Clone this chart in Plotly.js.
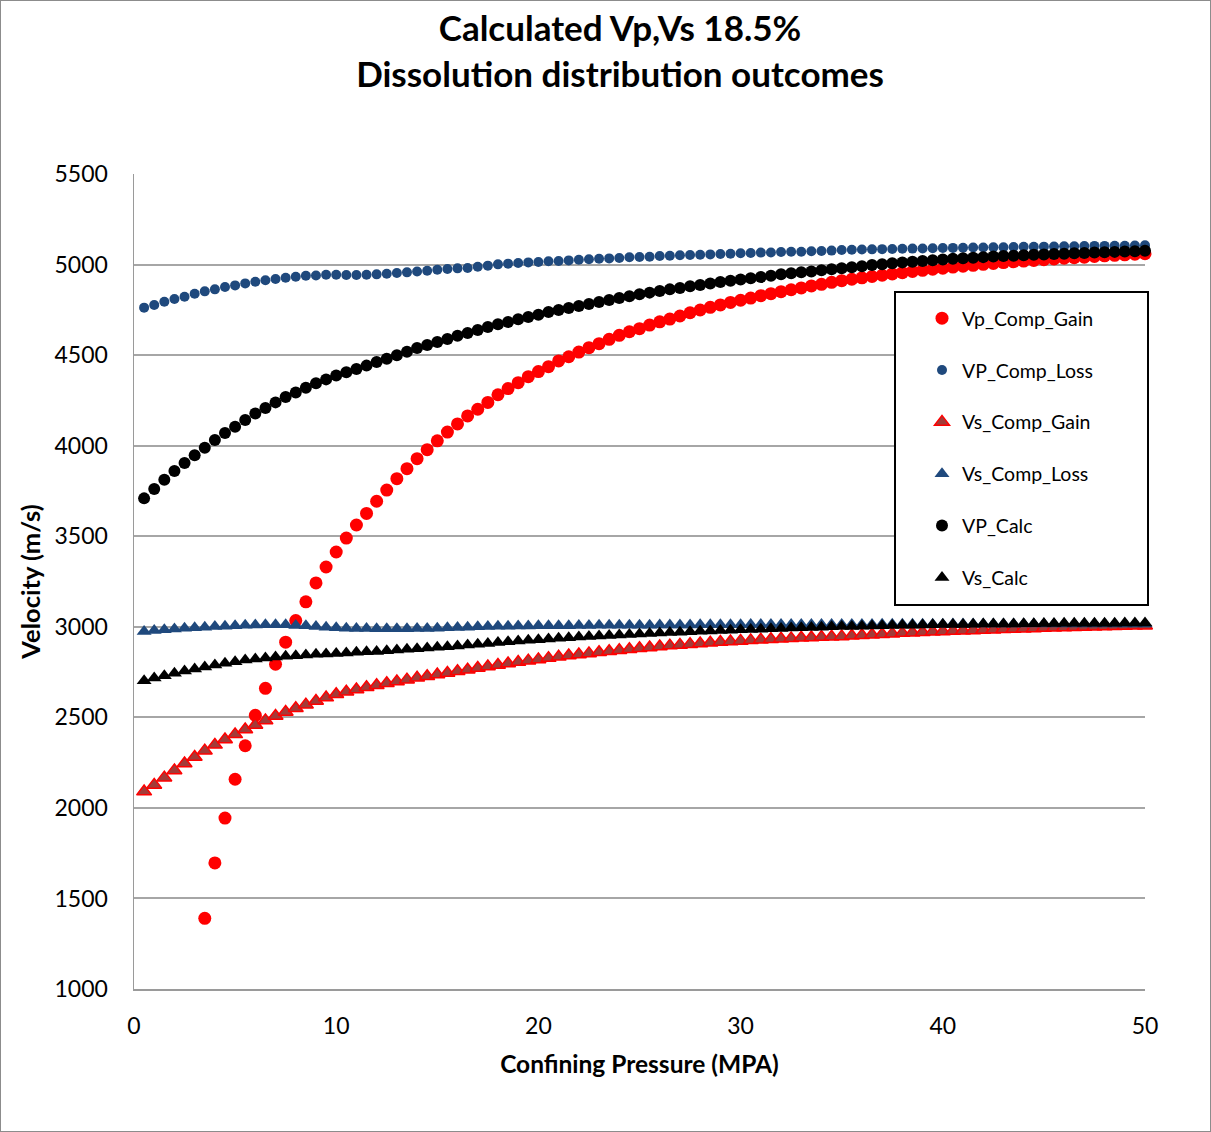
<!DOCTYPE html>
<html>
<head>
<meta charset="utf-8">
<script src="https://cdn.plot.ly/plotly-3.0.1.min.js"></script>
<style>
  html, body { margin: 0; padding: 0; background: #ffffff; }
  #wrap { position: relative; width: 1211px; height: 1132px; }
  #chart { width: 1211px; height: 1132px; }
  #frame { position: absolute; left: 0; top: 0; width: 1209px; height: 1130px; border: 1px solid #8c8c8c; pointer-events: none; }
</style>
</head>
<body>
<div id="wrap"><div id="chart"></div><div id="frame"></div></div>
<script>
// Confining pressure (MPa)
const pressure = [0.5,1,1.5,2,2.5,3,3.5,4,4.5,5,5.5,6,6.5,7,7.5,8,8.5,9,9.5,10,
  10.5,11,11.5,12,12.5,13,13.5,14,14.5,15,15.5,16,16.5,17,17.5,18,18.5,19,19.5,20,
  20.5,21,21.5,22,22.5,23,23.5,24,24.5,25,25.5,26,26.5,27,27.5,28,28.5,29,29.5,30,
  30.5,31,31.5,32,32.5,33,33.5,34,34.5,35,35.5,36,36.5,37,37.5,38,38.5,39,39.5,40,
  40.5,41,41.5,42,42.5,43,43.5,44,44.5,45,45.5,46,46.5,47,47.5,48,48.5,49,49.5,50];

// Vp_Comp_Gain (no values below 3.5 MPa)
const vpCompGain = [null,null,null,null,null,null,
  1390,1696,1944,2158,2343,2511,2660,2793,2915,3034,3138,3242,3330,3413,
  3490,3562,3626,3693,3755,3818,3873,3928,3978,4027,4075,4120,4164,4201,4239,
  4281,4315,4348,4381,4409,4436,4468,4491,4517,4541,4563,4587,4609,4629,4646,
  4666,4684,4699,4716,4734,4749,4764,4777,4791,4803,4815,4828,4839,4850,4861,
  4871,4882,4891,4902,4911,
  4919,4927,4934,4941,4948,4955,4962,4968,4974,4980,4986,4991,4996,5001,5006,
  5011,5015,5019,5023,5027,5031,5035,5038,5041,5045,5048,5051,5054,5057,5060];

// VP_Comp_Loss
const vpCompLoss = [4762,4777,4795,4810,4822,4839,4852,4863,4876,4885,4896,4905,4913,4920,4927,4933,4938,4940,4944,4944,
  4942,4942,4944,4946,4949,4953,4957,4962,4966,4971,4975,4979,4981,4988,4994,
  5001,5005,5009,5012,5014,5018,5020,5023,5027,5029,5032,5034,5036,5040,5042,5043,5047,5049,5051,5053,
  5054,5056,5058,5060,5062,5064,5066,5067,5069,5071,5071,5073,5075,5077,5080,
  5082,5083,5084,5085,5086,5087,5088,5089,5090,5091,5092,5093,5094,5094,5095,
  5096,5097,5098,5098,5099,5100,5101,5101,5102,5103,5103,5104,5104,5105,5106];

// Vs_Comp_Gain
const vsCompGain = [2090,2127,2167,2207,2245,2281,2316,2348,2378,2406,2433,2458,2483,2507,2529,2550,2570,2590,2609,2627,
  2641,2654,2666,2677,2688,2698,2708,2718,2727,2736,2745,2754,2763,2772,2781,
  2789,2797,2805,2813,2820,2827,2834,2841,2847,2853,2859,2865,2870,2876,2881,
  2886,2891,2896,2900,2904,2908,2912,2916,2919,2922,2925,2928,2931,2934,2936,
  2939,2941,2943,2945,2947,
  2950,2953,2956,2959,2962,2965,2967,2970,2972,2974,2976,2978,2980,2982,2984,
  2986,2988,2989,2991,2993,2994,2996,2997,2999,3000,3001,3003,3004,3005,3006];

// Vs_Comp_Loss
const vsCompLoss = [2974,2979,2983,2988,2992,2995,2998,3001,3003,3006,3009,3010,3011,3011,3011,3007,3005,3002,2998,2994,
  2992,2991,2990,2989,2989,2989,2989,2990,2991,2992,2994,2996,2998,3000,3002,
  3003,3003,3004,3004,3005,3005,3006,3006,3007,3007,3008,3008,3008,3009,3009,
  3009,3010,3010,3010,3010,3011,3011,3011,3011,3011,3012,3012,3012,3012,3012,
  3012,3013,3013,3013,3013,
  3013,3013,3013,3014,3014,3014,3014,3014,3014,3014,3015,3015,3015,3015,3015,
  3015,3015,3015,3015,3016,3016,3016,3016,3016,3016,3016,3016,3016,3016,3016];

// VP_Calc
const vpCalc = [3709,3761,3812,3860,3904,3947,3989,4031,4070,4105,4142,4177,4208,4239,4269,4293,4320,4344,4366,4388,
  4405,4423,4442,4462,4480,4499,4519,4539,4556,4572,4589,4607,4622,4639,4655,
  4670,4683,4698,4710,4723,4738,4749,4760,4771,4782,4793,4804,4815,4825,4836,
  4845,4854,4863,4871,4880,4887,4896,4904,4911,4918,4924,4931,4938,4946,4952,
  4957,4962,4968,4974,4979,
  4985,4991,4997,5002,5007,5012,5016,5020,5024,5028,5032,5035,5038,5041,5044,
  5047,5049,5052,5054,5056,5058,5060,5062,5064,5066,5068,5070,5072,5074,5076];

// Vs_Calc
const vsCalc = [2702,2717,2730,2743,2756,2767,2778,2789,2798,2807,2817,2822,2828,2833,2837,2840,2844,2848,2850,2853,
  2855,2859,2862,2864,2868,2872,2876,2879,2883,2887,2890,2894,2899,2903,2907,
  2913,2917,2921,2925,2929,2932,2936,2939,2943,2946,2949,2952,2955,2958,2960,
  2963,2966,2968,2970,2973,2975,2977,2979,2981,2983,2985,2987,2989,2991,2993,
  2995,2996,2998,3000,3001,
  3002,3003,3004,3006,3007,3008,3009,3010,3011,3012,3012,3013,3014,3015,3015,
  3016,3016,3017,3017,3018,3018,3019,3019,3019,3020,3020,3020,3021,3021,3021];

const seriesNames = ["Vp_Comp_Gain","VP_Comp_Loss","Vs_Comp_Gain","Vs_Comp_Loss","VP_Calc","Vs_Calc"];

const xTicks = [0,10,20,30,40,50];
const yTicks = [1000,1500,2000,2500,3000,3500,4000,4500,5000,5500];

const FONT = "Lato, 'Open Sans', 'DejaVu Sans', sans-serif";
const BLUE = "#1F497D";

function sc(name, y, marker, group) {
  return {type: "scatter", mode: "markers", name: name, x: pressure, y: y,
          marker: marker, legendgroup: group, cliponaxis: false, hoverinfo: "x+y"};
}

const traces = [
  sc(seriesNames[0], vpCompGain, {symbol: "circle", size: 13, color: "#FF0000"}, "g1"),
  sc(seriesNames[1], vpCompLoss, {symbol: "circle", size: 10, color: BLUE}, "g2"),
  sc(seriesNames[2], vsCompGain, {symbol: "triangle-up", size: 13, color: "#A33B38", line: {color: "#FF0000", width: 1.5}}, "g3"),
  sc(seriesNames[3], vsCompLoss, {symbol: "triangle-up", size: 13, color: BLUE}, "g4"),
  sc(seriesNames[4], vpCalc, {symbol: "circle", size: 12, color: "#000000"}, "g5"),
  sc(seriesNames[5], vsCalc, {symbol: "triangle-up", size: 13, color: "#000000"}, "g6")
];

const L = 134, R = 1145, T = 174, B = 989;
const pw = R - L, ph = B - T;
const px2x = p => (p - L) / pw;
const py2y = p => (B - p) / ph;

const layout = {
  width: 1211, height: 1132,
  margin: {l: L, r: 1211 - R, t: T, b: 1132 - B, pad: 0},
  paper_bgcolor: "#ffffff", plot_bgcolor: "#ffffff",
  font: {family: FONT, color: "#000000"},
  showlegend: true,
  title: {
    text: "Calculated Vp,Vs 18.5%<br>Dissolution distribution outcomes",
    font: {family: FONT, size: 35, weight: 700, color: "#000000"},
    xref: "container", x: 620 / 1211, xanchor: "center",
    yref: "container", y: 1 - 41 / 1132, yanchor: "top"
  },
  xaxis: {
    range: [0, 50], tickvals: xTicks, ticktext: xTicks.map(String),
    showgrid: false, zeroline: false,
    showline: true, linecolor: "#9a9a9a", linewidth: 1.5,
    ticks: "", ticklabelstandoff: 16,
    tickfont: {family: FONT, size: 23, color: "#000000"},
    title: {text: "Confining Pressure (MPA)", font: {family: FONT, size: 24.5, weight: 700, color: "#000000"}, standoff: 18}
  },
  yaxis: {
    range: [1000, 5500], tickvals: yTicks, ticktext: yTicks.map(String),
    showgrid: true, gridcolor: "#a6a6a6", gridwidth: 2,
    zeroline: false,
    showline: true, linecolor: "#9a9a9a", linewidth: 1.5,
    ticks: "", ticklabelstandoff: 20,
    tickfont: {family: FONT, size: 23, color: "#000000"},
    title: {text: "Velocity (m/s)", font: {family: FONT, size: 25.5, weight: 700, color: "#000000"}, standoff: 6}
  },
  shapes: [{
    type: "rect", xref: "paper", yref: "paper",
    x0: px2x(895), x1: px2x(1148), y0: py2y(605), y1: py2y(292),
    line: {color: "#000000", width: 2}, fillcolor: "#ffffff", layer: "above"
  }],
  legend: {
    x: px2x(922), y: py2y(299), xanchor: "left", yanchor: "top",
    xref: "paper", yref: "paper",
    bgcolor: "rgba(0,0,0,0)", borderwidth: 0,
    font: {family: FONT, size: 19.5, color: "#000000"},
    traceorder: "grouped", tracegroupgap: 23.5,
    itemsizing: "trace"
  }
};

Plotly.newPlot("chart", traces, layout, {displayModeBar: false, staticPlot: true});
</script>
</body>
</html>
